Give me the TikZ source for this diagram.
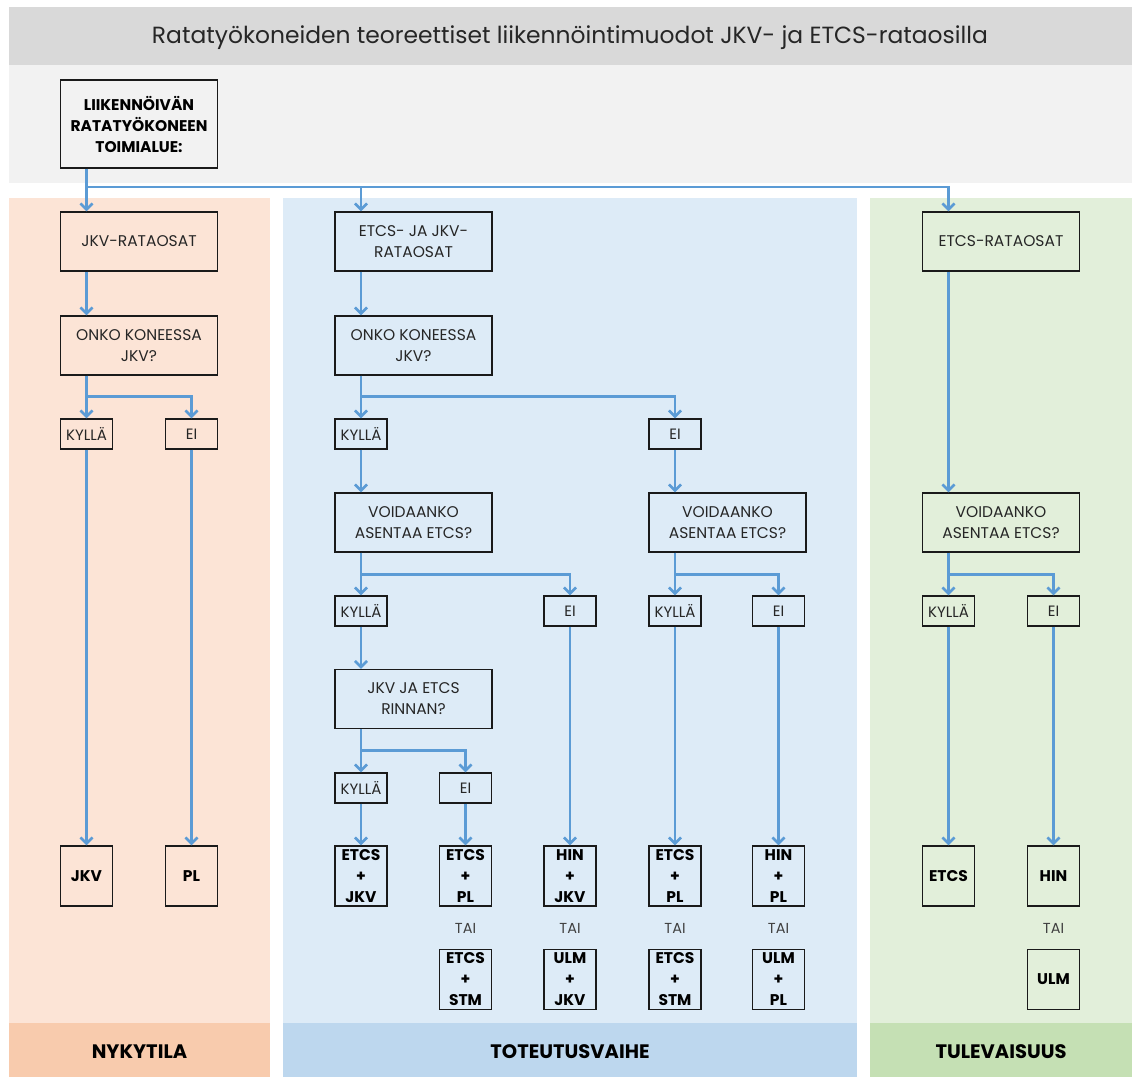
\documentclass[tikz,border=0pt]{standalone}
\usepackage{fontspec}
\setmainfont{Poppins}
\usetikzlibrary{arrows.meta}
\definecolor{titlegray}{HTML}{D9D9D9}
\definecolor{lightgray}{HTML}{F2F2F2}
\definecolor{orcol}{HTML}{FCE4D6}
\definecolor{orbot}{HTML}{F8CBAD}
\definecolor{blcol}{HTML}{DDEBF7}
\definecolor{blbot}{HTML}{BDD7EE}
\definecolor{grcol}{HTML}{E2EFDA}
\definecolor{grbot}{HTML}{C5E0B4}
\definecolor{arrblue}{HTML}{5B9BD5}
\definecolor{boxline}{HTML}{1A1A1A}
\definecolor{txt}{HTML}{262626}
\definecolor{taitxt}{HTML}{404040}
\begin{document}
\begin{tikzpicture}[x=1pt,y=-1pt,
  bx/.style={draw=boxline, line width=1.4pt, inner sep=0pt, align=center,
    font=\fontsize{15.5}{21}\selectfont, text=txt},
  wide/.style={bx, minimum width=157pt, minimum height=59pt},
  small/.style={bx, minimum width=52pt, minimum height=30pt, font=\fontsize{15}{21}\selectfont},
  fin/.style={bx, minimum width=52pt, minimum height=60pt,
    font=\fontsize{15.5}{21}\selectfont\bfseries, text=black},
  tai/.style={inner sep=0pt, font=\fontsize{14.5}{16}\selectfont, text=taitxt},
  foot/.style={inner sep=0pt, font=\fontsize{19.5}{22}\selectfont\bfseries, text=black},
  ln/.style={draw=arrblue, line width=2.6pt},
  arr/.style={ln, -{Straight Barb[length=6pt,width=12pt]}}]
\useasboundingbox (0,0) rectangle (1132,1077);
% backgrounds
\fill[titlegray] (9,7) rectangle (1132,65);
\fill[lightgray] (9,65) rectangle (1132,183);
\fill[orcol] (9,198) rectangle (270,1023);
\fill[orbot] (9,1023) rectangle (270,1077);
\fill[blcol] (283,198) rectangle (857,1023);
\fill[blbot] (283,1023) rectangle (857,1077);
\fill[grcol] (870,198) rectangle (1132,1023);
\fill[grbot] (870,1023) rectangle (1132,1077);
% title
\node[inner sep=0pt, font=\fontsize{23.4}{26}\selectfont, text=txt] (title) at (570,37.5)
  {Ratatyökoneiden teoreettiset liikennöintimuodot JKV- ja ETCS-rataosilla};
% top box
\node[bx, minimum width=157pt, minimum height=88pt, font=\fontsize{15.5}{21}\selectfont\bfseries, text=black]
  (top) at (139,124) {LIIKENNÖIVÄN\\RATATYÖKONEEN\\TOIMIALUE:};
% column 1
\node[wide] (jkvr) at (139,241.5) {JKV-RATAOSAT};
\node[wide] (onk1) at (139,345.5) {ONKO KONEESSA\\JKV?};
\node[small] (ky1) at (86.5,434) {KYLLÄ};
\node[small] (ei1) at (191.5,434) {EI};
\node[fin] (fjkv) at (86.5,876) {JKV};
\node[fin] (fpl) at (191.5,876) {PL};
% column 2
\node[wide] (ej) at (413.5,241.5) {ETCS- JA JKV-\\RATAOSAT};
\node[wide] (onk2) at (413.5,345.5) {ONKO KONEESSA\\JKV?};
\node[small] (ky2) at (361,434) {KYLLÄ};
\node[small] (ei2) at (675,434) {EI};
\node[wide] (voi1) at (413.5,522.5) {VOIDAANKO\\ASENTAA ETCS?};
\node[wide] (voi2) at (727.5,522.5) {VOIDAANKO\\ASENTAA ETCS?};
\node[small] (ky3) at (361,611) {KYLLÄ};
\node[small] (ei3) at (570,611) {EI};
\node[small] (ky4) at (675,611) {KYLLÄ};
\node[small] (ei4) at (778.5,611) {EI};
\node[wide] (rin) at (413.5,699) {JKV JA ETCS\\RINNAN?};
\node[small] (ky5) at (361,788) {KYLLÄ};
\node[small] (ei5) at (465.5,788) {EI};
\node[fin] (f1) at (361,876) {ETCS\\+\\JKV};
\node[fin] (f2) at (465.5,876) {ETCS\\+\\PL};
\node[fin] (f3) at (570,876) {HIN\\+\\JKV};
\node[fin] (f4) at (675,876) {ETCS\\+\\PL};
\node[fin] (f5) at (778.5,876) {HIN\\+\\PL};
\node[tai] (t2) at (465.5,928) {TAI};
\node[tai] (t3) at (570,928) {TAI};
\node[tai] (t4) at (675,928) {TAI};
\node[tai] (t5) at (778.5,928) {TAI};
\node[fin] (g2) at (465.5,979.5) {ETCS\\+\\STM};
\node[fin] (g3) at (570,979.5) {ULM\\+\\JKV};
\node[fin] (g4) at (675,979.5) {ETCS\\+\\STM};
\node[fin] (g5) at (778.5,979.5) {ULM\\+\\PL};
% column 3
\node[wide] (etr) at (1001,241.5) {ETCS-RATAOSAT};
\node[wide] (voi3) at (1001,522.5) {VOIDAANKO\\ASENTAA ETCS?};
\node[small] (ky6) at (948.5,611) {KYLLÄ};
\node[small] (ei6) at (1053.5,611) {EI};
\node[fin] (fe) at (948.5,876) {ETCS};
\node[fin] (fh) at (1053.5,876) {HIN};
\node[tai] (t6) at (1053.5,928) {TAI};
\node[fin] (fu) at (1053.5,979.5) {ULM};
% footers
\node[foot] (n1) at (139.5,1052) {NYKYTILA};
\node[foot] (n2) at (570,1052) {TOTEUTUSVAIHE};
\node[foot] (n3) at (1001,1052) {TULEVAISUUS};
% connectors
\coordinate (hub) at (86.5,187);
\draw[arr] (top.south -| ky1.north) -- (jkvr.north -| ky1.north);
\draw[arr] (hub) -| (ej.north -| ky2.north);
\draw[arr] (hub) -| (etr.north -| ky6.north);
% col 1
\draw[arr] (jkvr.south -| ky1.north) -- (onk1.north -| ky1.north);
\draw[arr] (onk1.south -| ky1.north) -- (ky1.north);
\draw[arr] (onk1.south -| ky1.north) -- ++(0,21) -| (ei1.north);
\draw[arr] (ky1.south) -- (fjkv.north);
\draw[arr] (ei1.south) -- (fpl.north);
% col 2
\draw[arr] (ej.south -| ky2.north) -- (onk2.north -| ky2.north);
\draw[arr] (onk2.south -| ky2.north) -- (ky2.north);
\draw[arr] (onk2.south -| ky2.north) -- ++(0,21) -| (ei2.north);
\draw[arr] (ky2.south) -- (voi1.north -| ky2.north);
\draw[arr] (ei2.south) -- (voi2.north -| ei2.north);
\draw[arr] (voi1.south -| ky3.north) -- (ky3.north);
\draw[arr] (voi1.south -| ky3.north) -- ++(0,21.5) -| (ei3.north);
\draw[arr] (voi2.south -| ky4.north) -- (ky4.north);
\draw[arr] (voi2.south -| ky4.north) -- ++(0,21.5) -| (ei4.north);
\draw[arr] (ky3.south) -- (rin.north -| ky3.north);
\draw[arr] (rin.south -| ky5.north) -- (ky5.north);
\draw[arr] (rin.south -| ky5.north) -- ++(0,21) -| (ei5.north);
\draw[arr] (ky5.south) -- (f1.north);
\draw[arr] (ei5.south) -- (f2.north);
\draw[arr] (ei3.south) -- (f3.north);
\draw[arr] (ky4.south) -- (f4.north);
\draw[arr] (ei4.south) -- (f5.north);
% col 3
\draw[arr] (etr.south -| ky6.north) -- (voi3.north -| ky6.north);
\draw[arr] (voi3.south -| ky6.north) -- (ky6.north);
\draw[arr] (voi3.south -| ky6.north) -- ++(0,21.5) -| (ei6.north);
\draw[arr] (ky6.south) -- (fe.north);
\draw[arr] (ei6.south) -- (fh.north);
\end{tikzpicture}
\end{document}
